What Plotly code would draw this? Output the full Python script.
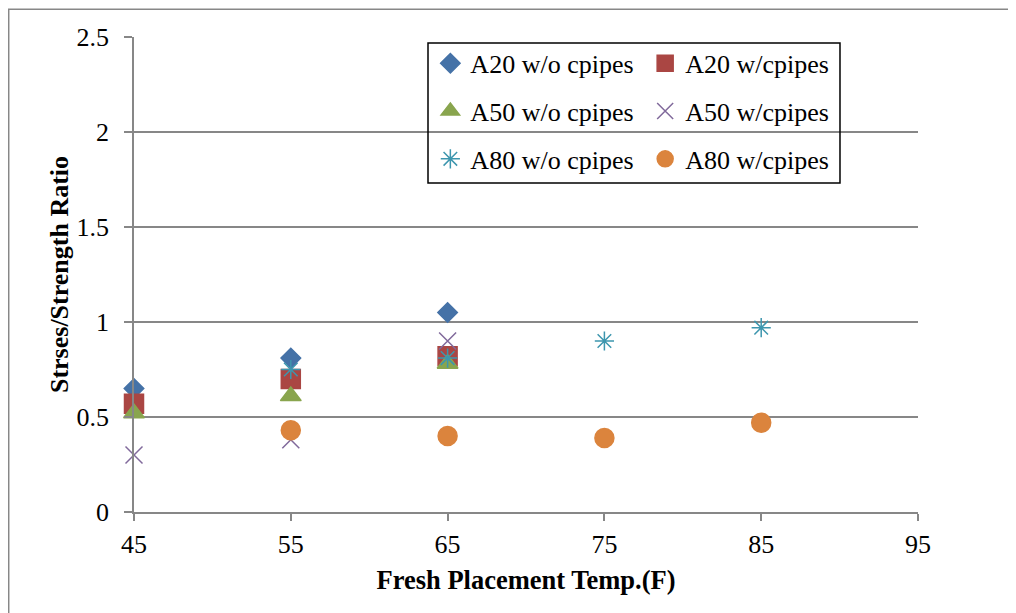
import plotly.graph_objects as go

a20_wo_x = [45, 55, 65]
a20_wo_y = [0.65, 0.81, 1.05]
a20_w_x = [45, 55, 65]
a20_w_y = [0.57, 0.70, 0.82]
a50_wo_x = [45, 55, 65]
a50_wo_y = [0.52, 0.61, 0.78]
a50_w_x = [45, 55, 65]
a50_w_y = [0.30, 0.38, 0.90]
a80_wo_x = [55, 65, 75, 85]
a80_wo_y = [0.75, 0.81, 0.90, 0.97]
a80_w_x = [55, 65, 75, 85]
a80_w_y = [0.43, 0.40, 0.39, 0.47]

x_ticks = [45, 55, 65, 75, 85, 95]
y_ticks = [0, 0.5, 1, 1.5, 2, 2.5]
y_tick_text = ["0", "0.5", "1", "1.5", "2", "2.5"]

FONT = "Liberation Serif"
GRID = "#878787"

fig = go.Figure()

series = [
    ("A20 w/o cpipes", a20_wo_x, a20_wo_y, "diamond", "#4572A7", 15, "legend"),
    ("A50 w/o cpipes", a50_wo_x, a50_wo_y, "triangle-up", "#89A54E", 18, "legend"),
    ("A80 w/o cpipes", a80_wo_x, a80_wo_y, "asterisk-open", "#3D96AE", 16, "legend"),
    ("A20 w/cpipes", a20_w_x, a20_w_y, "square", "#AA4643", 19, "legend2"),
    ("A50 w/cpipes", a50_w_x, a50_w_y, "x-thin-open", "#80699B", 17, "legend2"),
    ("A80 w/cpipes", a80_w_x, a80_w_y, "circle", "#DB843D", 19, "legend2"),
]
order = [0, 3, 1, 4, 2, 5]
for i in order:
    name, xs, ys, sym, col, sz, leg = series[i]
    fig.add_trace(go.Scatter(
        x=xs, y=ys, mode="markers", name=name, cliponaxis=False,
        marker=dict(symbol=sym, color=col, size=sz,
                    line=dict(color=col, width=1.5)),
        legend=leg, legendgroup=name,
    ))

legend_common = dict(
    font=dict(family=FONT, size=26, color="black"),
    bgcolor="rgba(0,0,0,0)",
    borderwidth=0,
    tracegroupgap=11,
    traceorder="grouped",
    yanchor="top",
    xanchor="left",
    itemwidth=30,
)

fig.update_layout(
    width=1008, height=605,
    margin=dict(l=126, r=98, t=29, b=101, autoexpand=False),
    paper_bgcolor="white", plot_bgcolor="white",
    font=dict(family=FONT, size=26, color="black"),
    showlegend=True,
    legend=dict(x=0.378, y=0.994, **legend_common),
    legend2=dict(x=0.652, y=0.994, **legend_common),
    xaxis=dict(
        range=[45, 95], tickvals=x_ticks, ticktext=[str(v) for v in x_ticks],
        showgrid=False, zeroline=False, automargin=False,
        showline=True, linecolor=GRID, linewidth=1.5,
        ticks="outside", ticklen=7, tickcolor=GRID, tickwidth=1.5,
        ticklabelstandoff=1,
        tickfont=dict(family=FONT, size=26, color="black"),
        title=dict(text="<b>Fresh Placement Temp.(F)</b>",
                   font=dict(family=FONT, size=26.5, color="black"), standoff=12),
    ),
    yaxis=dict(
        range=[0, 2.5], tickvals=y_ticks, ticktext=y_tick_text,
        showgrid=True, gridcolor=GRID, gridwidth=1.5,
        zeroline=False, automargin=False,
        showline=True, linecolor=GRID, linewidth=1.5,
        ticks="outside", ticklen=8, tickcolor=GRID, tickwidth=1.5,
        ticklabelstandoff=10,
        tickfont=dict(family=FONT, size=26, color="black"),
        title=dict(text="<b>Strses/Strength Ratio</b>",
                   font=dict(family=FONT, size=26, color="black"), standoff=0),
    ),
    shapes=[
        dict(type="rect", xref="paper", yref="paper",
             x0=0.375, x1=0.9005, y0=0.6926, y1=0.9874,
             line=dict(color="black", width=1.5), fillcolor="rgba(0,0,0,0)", layer="above"),
        dict(type="rect", xref="paper", yref="paper",
             x0=-0.1598, x1=1.2, y0=-0.3, y1=1.0585,
             line=dict(color=GRID, width=1.5), fillcolor="rgba(0,0,0,0)", layer="below"),
    ],
)

fig.write_html("out.html")
